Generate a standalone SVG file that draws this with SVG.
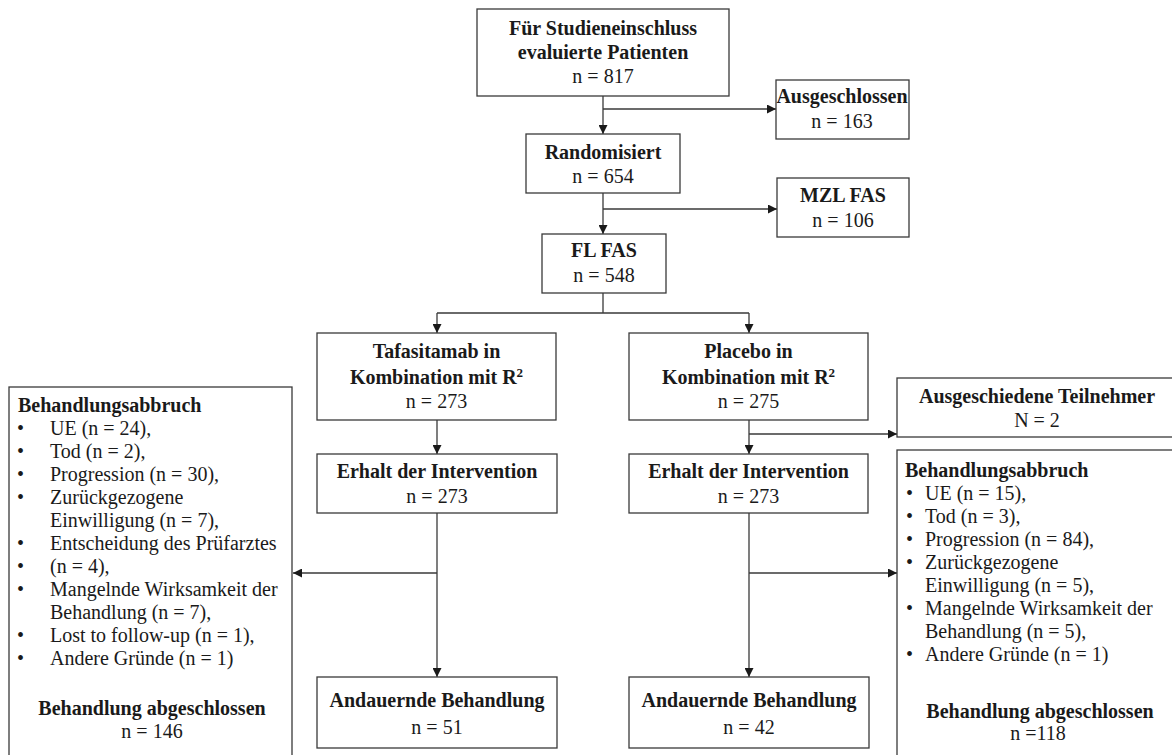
<svg xmlns="http://www.w3.org/2000/svg" width="1172" height="755" viewBox="0 0 1172 755">
<style>
text{font-family:"Liberation Serif","Times New Roman",serif;font-size:20px;fill:#1a1a1a}
.b{font-weight:bold}
.c{text-anchor:middle}
.box{fill:#fff;stroke:#3a3a3a;stroke-width:1.3}
.ln{fill:none;stroke:#3a3a3a;stroke-width:1.3}
</style>
<defs>
<marker id="ah" viewBox="0 0 10 10" refX="10" refY="5" markerWidth="9" markerHeight="9" markerUnits="userSpaceOnUse" orient="auto">
<path d="M0,0 L10,5 L0,10 z" fill="#1a1a1a"/>
</marker>
</defs>
<rect width="1172" height="755" fill="#fff"/>
<g id="connectors">
<path class="ln" d="M603,96 V134" marker-end="url(#ah)"/>
<path class="ln" d="M603,109 H776" marker-end="url(#ah)"/>
<path class="ln" d="M603,193 V234" marker-end="url(#ah)"/>
<path class="ln" d="M603,209 H777" marker-end="url(#ah)"/>
<path class="ln" d="M603,293 V313 M437,313 H749"/>
<path class="ln" d="M437,313 V333" marker-end="url(#ah)"/>
<path class="ln" d="M749,313 V333" marker-end="url(#ah)"/>
<path class="ln" d="M437,420 V454" marker-end="url(#ah)"/>
<path class="ln" d="M749,420 V454" marker-end="url(#ah)"/>
<path class="ln" d="M749,434 H897" marker-end="url(#ah)"/>
<path class="ln" d="M437,513 V677" marker-end="url(#ah)"/>
<path class="ln" d="M437,573 H293" marker-end="url(#ah)"/>
<path class="ln" d="M749,513 V677" marker-end="url(#ah)"/>
<path class="ln" d="M749,573 H897" marker-end="url(#ah)"/>
</g>
<g id="n_eval">
<rect class="box" x="477" y="9" width="252" height="87"/>
<text class="b c" x="603" y="35">Für Studieneinschluss</text>
<text class="b c" x="603" y="59">evaluierte Patienten</text>
<text class="c" x="603" y="83">n = 817</text>
</g>
<g id="n_ausgeschlossen">
<rect class="box" x="776" y="80" width="133" height="59"/>
<text class="b c" x="842" y="103">Ausgeschlossen</text>
<text class="c" x="842" y="128">n = 163</text>
</g>
<g id="n_random">
<rect class="box" x="526" y="134" width="154" height="59"/>
<text class="b c" x="603" y="159">Randomisiert</text>
<text class="c" x="603" y="183">n = 654</text>
</g>
<g id="n_mzl">
<rect class="box" x="777" y="178" width="132" height="59"/>
<text class="b c" x="843" y="202">MZL FAS</text>
<text class="c" x="843" y="227">n = 106</text>
</g>
<g id="n_fl">
<rect class="box" x="542" y="234" width="124" height="59"/>
<text class="b c" x="604" y="257">FL FAS</text>
<text class="c" x="604" y="282">n = 548</text>
</g>
<g id="n_tafa">
<rect class="box" x="317" y="333" width="239" height="87"/>
<text class="b c" x="436.5" y="358">Tafasitamab in</text>
<text class="b c" x="436.5" y="384">Kombination mit R<tspan dy="-7" font-size="13">2</tspan></text>
<text class="c" x="436.5" y="408">n = 273</text>
</g>
<g id="n_placebo">
<rect class="box" x="629" y="333" width="239" height="87"/>
<text class="b c" x="748.5" y="358">Placebo in</text>
<text class="b c" x="748.5" y="384">Kombination mit R<tspan dy="-7" font-size="13">2</tspan></text>
<text class="c" x="748.5" y="408">n = 275</text>
</g>
<g id="n_ausgeschieden">
<rect class="box" x="897" y="378" width="277" height="59"/>
<text class="b c" x="1037" y="403">Ausgeschiedene Teilnehmer</text>
<text class="c" x="1037" y="427">N = 2</text>
</g>
<g id="n_erhalt_l">
<rect class="box" x="317" y="454" width="240" height="59"/>
<text class="b c" x="437" y="478">Erhalt der Intervention</text>
<text class="c" x="437" y="503">n = 273</text>
</g>
<g id="n_erhalt_r">
<rect class="box" x="629" y="454" width="239" height="59"/>
<text class="b c" x="748.5" y="478">Erhalt der Intervention</text>
<text class="c" x="748.5" y="503">n = 273</text>
</g>
<g id="n_abbruch_l">
<rect class="box" x="9" y="387" width="283" height="380"/>
<text class="b" x="18" y="412">Behandlungsabbruch</text>
<text x="17" y="435">•</text><text x="50" y="435">UE (n = 24),</text>
<text x="17" y="458">•</text><text x="50" y="458">Tod (n = 2),</text>
<text x="17" y="481">•</text><text x="50" y="481">Progression (n = 30),</text>
<text x="17" y="504">•</text><text x="50" y="504">Zurückgezogene</text>
<text x="50" y="527">Einwilligung (n = 7),</text>
<text x="17" y="550">•</text><text x="50" y="550">Entscheidung des Prüfarztes</text>
<text x="17" y="573">•</text><text x="50" y="573">(n = 4),</text>
<text x="17" y="596">•</text><text x="50" y="596">Mangelnde Wirksamkeit der</text>
<text x="50" y="619">Behandlung (n = 7),</text>
<text x="17" y="642">•</text><text x="50" y="642">Lost to follow-up (n = 1),</text>
<text x="17" y="665">•</text><text x="50" y="665">Andere Gründe (n = 1)</text>
<text class="b c" x="152" y="715">Behandlung abgeschlossen</text>
<text class="c" x="152" y="738">n = 146</text>
</g>
<g id="n_abbruch_r">
<rect class="box" x="897" y="450" width="277" height="320"/>
<text class="b" x="905" y="477">Behandlungsabbruch</text>
<text x="906" y="500">•</text><text x="925" y="500">UE (n = 15),</text>
<text x="906" y="523">•</text><text x="925" y="523">Tod (n = 3),</text>
<text x="906" y="546">•</text><text x="925" y="546">Progression (n = 84),</text>
<text x="906" y="569">•</text><text x="925" y="569">Zurückgezogene</text>
<text x="925" y="592">Einwilligung (n = 5),</text>
<text x="906" y="615">•</text><text x="925" y="615">Mangelnde Wirksamkeit der</text>
<text x="925" y="638">Behandlung (n = 5),</text>
<text x="906" y="661">•</text><text x="925" y="661">Andere Gründe (n = 1)</text>
<text class="b c" x="1040" y="718">Behandlung abgeschlossen</text>
<text class="c" x="1038" y="740">n =118</text>
</g>
<g id="n_andauernd_l">
<rect class="box" x="317" y="677" width="240" height="71"/>
<text class="b c" x="437" y="707">Andauernde Behandlung</text>
<text class="c" x="437" y="734">n = 51</text>
</g>
<g id="n_andauernd_r">
<rect class="box" x="629" y="677" width="240" height="71"/>
<text class="b c" x="749" y="707">Andauernde Behandlung</text>
<text class="c" x="749" y="734">n = 42</text>
</g>
</svg>
